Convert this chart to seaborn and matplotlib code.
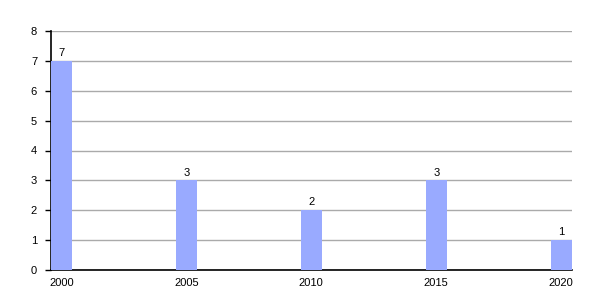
import matplotlib
matplotlib.use("Agg")
import matplotlib.pyplot as plt
import seaborn as sns
import pandas as pd

years = ["2000", "2005", "2010", "2015", "2020"]
counts = [7, 3, 2, 3, 1]

sns.set_style("white")
plt.rcParams['font.family'] = ['Liberation Sans', 'DejaVu Sans']
plt.rcParams['text.color'] = 'black'
plt.rcParams['xtick.color'] = 'black'
plt.rcParams['ytick.color'] = 'black'

df = pd.DataFrame({"year": years, "count": counts})

fig = plt.figure(figsize=(6, 3), dpi=100)
ax = fig.add_axes([51/600, 0.1, 520.5/600, 239/300])
w = 0.164
sns.barplot(data=df, x="year", y="count", order=years, color="#99aaff",
            saturation=1, width=w, ax=ax, zorder=3, linewidth=0, edgecolor="none")
ax.set_xlim(-w/2, len(years) - 1 + w/2)
ax.set_ylim(0, 8)
ax.set_yticks(range(0, 9))
ax.grid(axis="y", color="#aaaaaa", linewidth=1, zorder=0)
ax.set_axisbelow(True)
for s in ["top", "right"]:
    ax.spines[s].set_visible(False)
for s in ["left", "bottom"]:
    ax.spines[s].set_color("black")
    ax.spines[s].set_linewidth(1.2)
ax.tick_params(axis="y", which="both", left=True, length=4, width=1, color="black",
               labelsize=8, pad=6, labelcolor="black")
ax.tick_params(axis="x", bottom=False, labelsize=8, pad=2, labelcolor="black")
ax.set_xlabel("")
ax.set_ylabel("")
for c in ax.containers:
    ax.bar_label(c, labels=[str(v) for v in counts], padding=2, fontsize=8, color="black")

fig.savefig("out.png", dpi=100)
